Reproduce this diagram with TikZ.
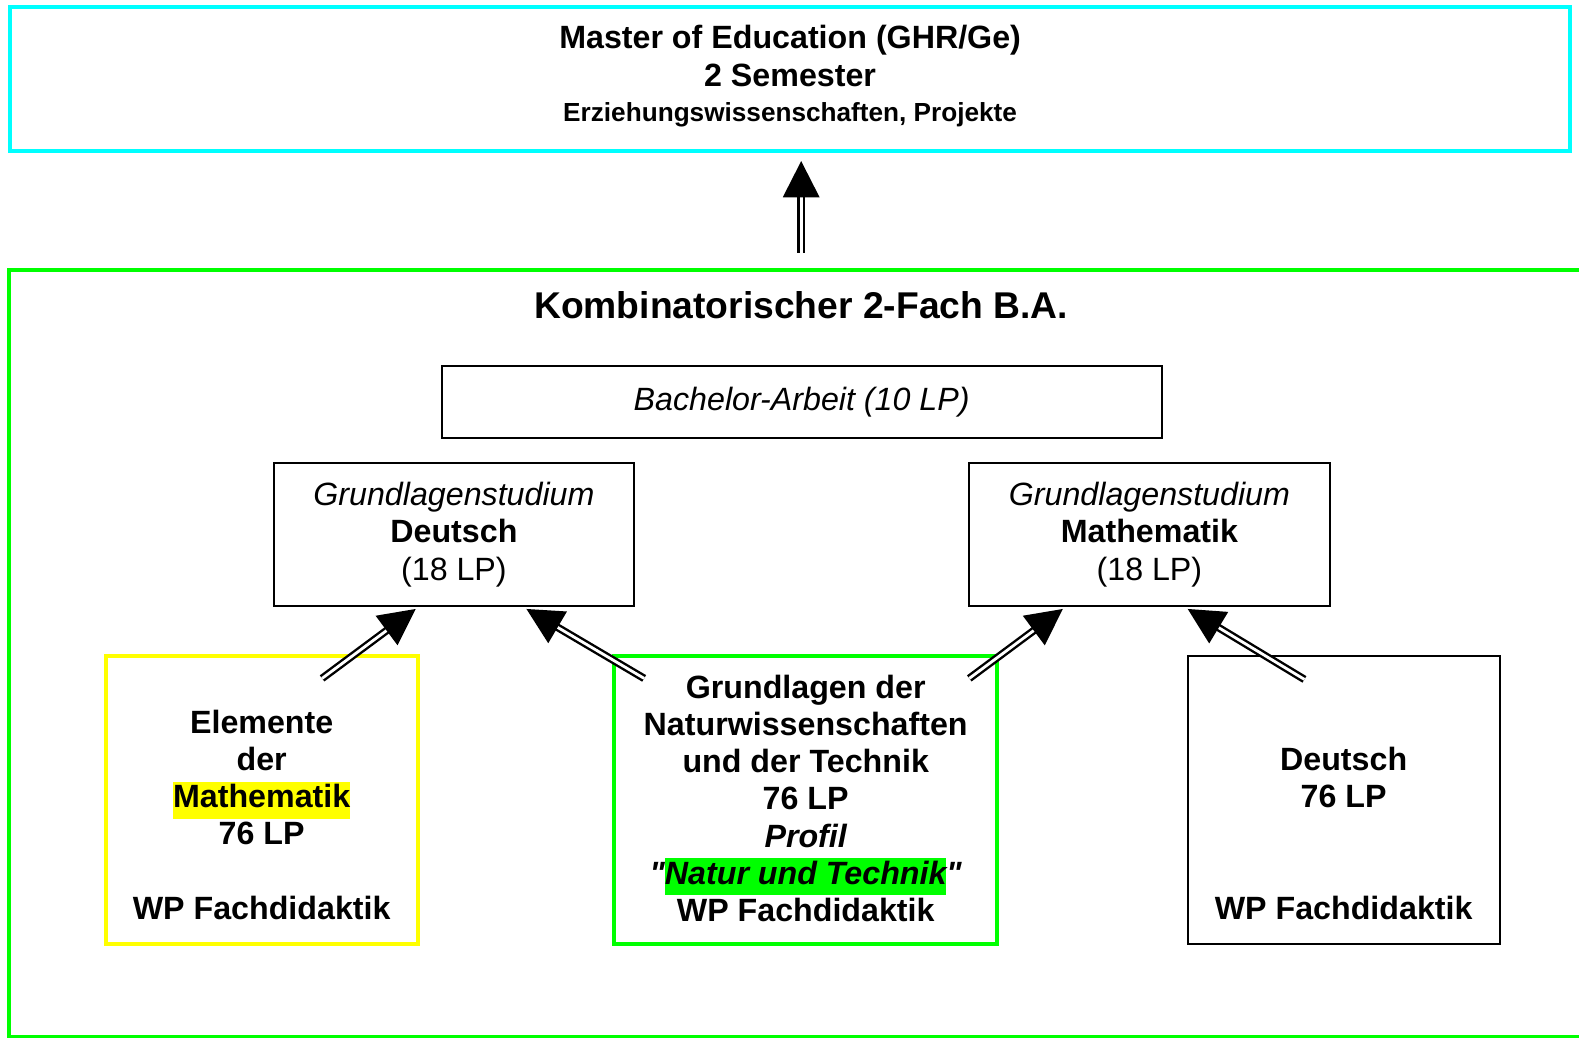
\documentclass[tikz,border=0pt]{standalone}
\usepackage{fontspec}
\setmainfont{Liberation Sans}
\usepackage{tikz}
\usetikzlibrary{arrows.meta, calc, positioning}
\setlength{\fboxsep}{0pt}
\definecolor{mcyan}{RGB}{0,255,255}
\definecolor{mgreen}{RGB}{0,255,0}
\definecolor{myellow}{RGB}{255,255,0}
\newcommand{\txt}{\fontsize{16}{18.5}\selectfont}
\tikzstyle{box} = [rectangle, draw, line width=1pt, inner sep=0pt, text centered, align=center, font=\txt]
\tikzstyle{cbox} = [box, draw=mcyan, line width=2pt]
\tikzstyle{gbox} = [box, draw=mgreen, line width=2pt]
\tikzstyle{ybox} = [box, draw=myellow, line width=2pt]
\tikzstyle{fbox} = [minimum width=155pt, minimum height=143pt, font=\txt\bfseries]
\tikzstyle{lbox} = [box, minimum width=179pt, minimum height=71pt]
\tikzstyle{line} = [draw, double, double distance=1.4pt, line width=1.2pt, -{Triangle[length=18pt, width=18pt]}]

\begin{document}
\begin{tikzpicture}[x=0.5pt, y=-0.5pt]
    \useasboundingbox (0,0) rectangle (1568.8,1030.3);
    \clip (0,0) rectangle (1568.8,1030.3);
    \node[cbox, minimum width=775pt, minimum height=71.5pt, font=\txt\bfseries](master) at (785,78.5)
        {Master of Education (GHR/Ge)\\2 Semester\\[-1pt]{\fontsize{13}{16}\selectfont Erziehungswissenschaften, Projekte}\strut};

    \node[gbox, line width=1.8pt, minimum width=795.5pt, minimum height=381pt](ba) at (804.5,649){};
    \node[font=\fontsize{18.5}{22}\selectfont\bfseries](title) at (796,303){Kombinatorischer 2-Fach B.A.};

    \node[box, minimum width=357.5pt, minimum height=35.5pt](arbeit) at (796.5,399.5){\itshape Bachelor-Arbeit (10 LP)};
    \node[lbox](gd) at (451,531){{\itshape Grundlagenstudium}\\{\bfseries Deutsch}\\(18 LP)};
    \node[lbox](gm) at (1142,531){{\itshape Grundlagenstudium}\\{\bfseries Mathematik}\\(18 LP)};

    \node[ybox, fbox](em) at (260,795)
        {\strut\\Elemente\\der\\\colorbox{myellow}{\strut Mathematik}\\76 LP\\\strut\\WP Fachdidaktik\strut};
    \node[gbox, fbox, minimum width=190.5pt](nt) at (800.5,795)
        {Grundlagen der\\Naturwissenschaften\\und der Technik\\76 LP\\{\itshape Profil}\\{\itshape\textquotedbl\colorbox{mgreen}{\strut Natur und Technik}\textquotedbl}\\WP Fachdidaktik\rule[-2pt]{0pt}{2pt}};
    \node[box, fbox](de) at (1335,795)
        {\strut\\\strut\\Deutsch\\76 LP\\\strut\\\strut\\WP Fachdidaktik\strut};

    \path[line] ($(ba.north -| title)+(0,-15)$) -- ($(master.south -| title)+(0,8)$);
    \path[line] ($(em.north)+(60,24)$) -- ($(gd.south)+(-38,2)$);
    \path[line] ($(nt.north)+(-160.5,24)$) -- ($(gd.south)+(72,2)$);
    \path[line] ($(nt.north)+(162.5,24)$) -- ($(gm.south)+(-86,2)$);
    \path[line] ($(de.north)+(-39,24)$) -- ($(gm.south)+(38,2)$);
\end{tikzpicture}
\end{document}
